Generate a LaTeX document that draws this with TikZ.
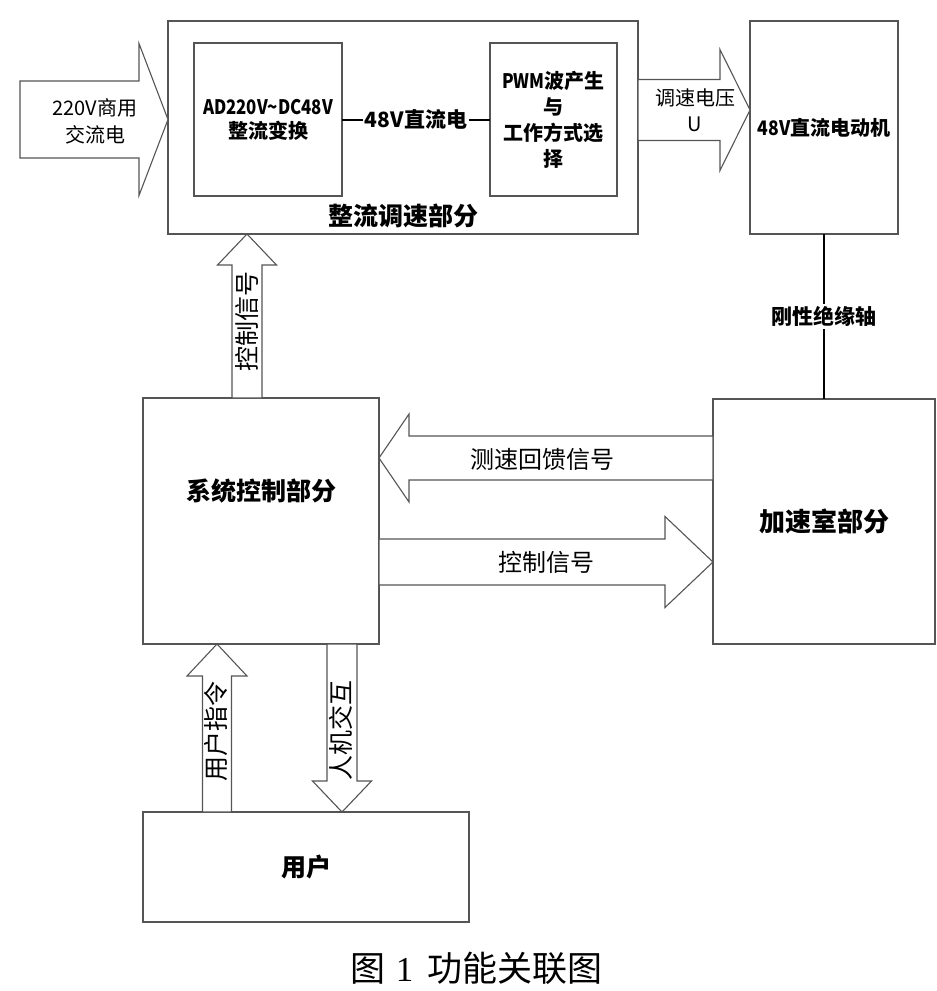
\documentclass[tikz,border=0pt]{standalone}
\usepackage{graphicx}
\usepackage{fontspec}
\setmainfont{Noto Sans CJK SC}
\newfontfamily\capdigit{Liberation Serif}
\usetikzlibrary{positioning, calc}
\definecolor{boxline}{HTML}{555555}

\begin{document}
\begin{tikzpicture}[
        x=1pt, y=-1pt,
        block/.style={
            draw=boxline,
            line width=1.1pt,
            inner sep=0pt,
            outer sep=0pt,
            align=center
        },
        blockarrow/.style={draw=boxline, line width=1.1pt, fill=white},
        boldtext/.style={font=\fontsize{20}{24}\selectfont\bfseries, align=center},
        bigbold/.style={font=\fontsize{25}{28}\selectfont\bfseries},
        plaintext/.style={font=\fontsize{24}{27}\selectfont, align=center},
        sidetext/.style={font=\fontsize{25}{28}\selectfont, rotate=90},
        wire/.style={line width=2pt, black}
    ]
        \useasboundingbox (0,0) rectangle (937,991);

        % upper row
        \node[block, minimum width=470pt, minimum height=213pt] (rectify) at (403,127.5) {};
        \node[block, boldtext, minimum width=148pt, minimum height=153pt] (ad) at (268,119.5)
            {\scalebox{0.84}[1]{AD220V\textasciitilde DC48V}\\整流变换};
        \node[block, boldtext, minimum width=127pt, minimum height=153pt,
            font=\fontsize{20}{26}\selectfont\bfseries, right=148pt of ad] (pwm)
            {\scalebox{0.85}[1]{PWM}波产生\\与\\工作方式选\\择};
        \node[block, boldtext, minimum width=148pt, minimum height=213pt, right=112pt of rectify] (motor)
            {\scalebox{0.88}[1]{48V}直流电动机};
        \node[bigbold] (rectifylabel) at ($(rectify.south)+(0,-18)$) {整流调速部分};

        % lower part
        \node[block, minimum width=236pt, minimum height=246pt] (sys) at (261,521) {};
        \node[bigbold] (syslabel) at ($(sys.center)+(0,-30)$) {系统控制部分};
        \node[block, bigbold, font=\fontsize{26}{28}\selectfont\bfseries, minimum width=222pt,
            minimum height=245pt, below=165pt of motor] (accel) {加速室部分};
        \node[block, bigbold, minimum width=326pt, minimum height=110pt] (user) at (306,867) {用户};

        % wires
        \draw[wire] (ad.east) -- (pwm.west)
            node[midway, fill=white, boldtext, font=\fontsize{21}{24}\selectfont\bfseries, inner sep=2pt] (dclabel) {48V直流电};
        \draw[wire] (motor.south) -- (accel.north)
            node[midway, fill=white, boldtext, font=\fontsize{21}{24}\selectfont\bfseries, inner sep=2pt] (shaftlabel) {刚性绝缘轴};

        % block arrows
        \coordinate (acin) at (rectify.west |- ad.center);
        \draw[blockarrow] (acin) -- ++(-29,-76) -- ++(0,37.5) -- ++(-119,0)
            -- ++(0,77) -- ++(119,0) -- ++(0,37.5) -- cycle;
        \node[plaintext, font=\fontsize{20}{27}\selectfont] (acinlabel) at ($(acin)+(-73,1.5)$) {220V商用\\交流电};

        \coordinate (vtip) at ($(motor.west)+(0,-17.5)$);
        \draw[blockarrow] (vtip) -- ++(-30,-60.5) -- ++(0,30) -- ++(-82,0)
            -- ++(0,61) -- ++(82,0) -- ++(0,30) -- cycle;
        \node[plaintext, font=\fontsize{20}{26}\selectfont] (vlabel) at ($(vtip)+(-55,0)$) {调速电压\\U};

        \coordinate (ctrlup) at ($(rectify.south west)+(79,0)$);
        \draw[blockarrow] (ctrlup) -- ++(-29.5,31) -- ++(14.5,0) -- ++(0,133)
            -- ++(30,0) -- ++(0,-133) -- ++(14.5,0) -- cycle;
        \node[sidetext] (ctrluplabel) at ($(ctrlup)+(0,87)$) {控制信号};

        \coordinate (fbtip) at ($(sys.east)+(0,-63)$);
        \draw[blockarrow] (fbtip) -- ++(30,-44) -- ++(0,22) -- ++(304,0)
            -- ++(0,44) -- ++(-304,0) -- ++(0,22) -- cycle;
        \node[plaintext] (fblabel) at ($(fbtip)+(163,1)$) {测速回馈信号};

        \coordinate (ctrltip) at ($(accel.west)+(0,40.5)$);
        \draw[blockarrow] (ctrltip) -- ++(-48,-45.5) -- ++(0,22.5) -- ++(-286,0)
            -- ++(0,46) -- ++(286,0) -- ++(0,22.5) -- cycle;
        \node[plaintext] (ctrllabel) at ($(ctrltip)+(-167,0)$) {控制信号};

        \coordinate (cmdtip) at ($(sys.south)+(-44,0)$);
        \draw[blockarrow] (cmdtip) -- ++(-30,32) -- ++(15.5,0) -- ++(0,136)
            -- ++(29,0) -- ++(0,-136) -- ++(15.5,0) -- cycle;
        \node[sidetext] (cmdlabel) at ($(cmdtip)+(-0.5,87)$) {用户指令};

        \coordinate (hmitip) at ($(user.north)+(36,0)$);
        \draw[blockarrow] (hmitip) -- ++(-29.5,-31) -- ++(14.5,0) -- ++(0,-137)
            -- ++(30,0) -- ++(0,137) -- ++(14.5,0) -- cycle;
        \node[sidetext] (hmilabel) at ($(hmitip)+(-1,-82)$) {人机交互};

        % caption
        \node[font=\fontsize{35}{40}\selectfont] (caption) at (476.5,968) {图\hspace{10pt}{\capdigit 1}\hspace{14pt}功能关联图};
    \end{tikzpicture}
\end{document}
